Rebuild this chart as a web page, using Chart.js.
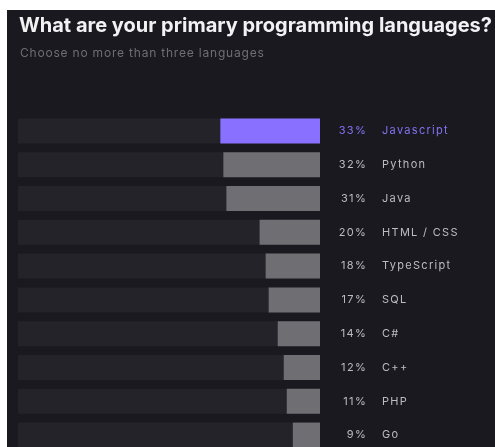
<!DOCTYPE html>
<html>
<head>
<meta charset="utf-8">
<script src="https://cdn.jsdelivr.net/npm/chart.js@4.4.1/dist/chart.umd.min.js"></script>
<style>
  html, body { margin: 0; padding: 0; background: #ffffff; width: 495px; height: 447px; overflow: hidden; }
  #panel { position: absolute; left: 7px; top: 10px; width: 488px; height: 437px; background: #1a191f; overflow: hidden; }
  #title { position: absolute; left: 12px; top: 3px; white-space: nowrap; color: #f2f2f4; font-family: Inter, "Noto Sans", sans-serif; font-weight: 700; font-size: 20px; }
  #subtitle { position: absolute; left: 13px; top: 35px; white-space: nowrap; color: #6f6e75; font-family: Inter, "Noto Sans", sans-serif; font-size: 12px; letter-spacing: 0.8px; }
  #wrap { position: absolute; left: 0; top: 0; width: 488px; height: 452px; }
</style>
</head>
<body>
<div id="panel">
  <div id="wrap"><canvas id="c"></canvas></div>
  <div id="title">What are your primary programming languages?</div>
  <div id="subtitle">Choose no more than three languages</div>
</div>
<script>
const languages = ["Javascript", "Python", "Java", "HTML / CSS", "TypeScript", "SQL", "C#", "C++", "PHP", "Go"];
const shares = [33, 32, 31, 20, 18, 17, 14, 12, 11, 9];
const trackValues = [100, 100, 100, 100, 100, 100, 100, 100, 100, 100];
const highlightIndex = 0;

const accent = "#8a70ff";
const accentText = "#8372f2";
const barGray = "#6f6e73";
const trackColor = "#24232a";
const labelGray = "#bdbcc2";

const labelPlugin = {
  id: "rightLabels",
  afterDatasetsDraw(chart) {
    const { ctx, chartArea, scales } = chart;
    ctx.save();
    ctx.font = "11px Inter, 'Noto Sans', sans-serif";
    ctx.letterSpacing = "1.3px";
    ctx.textBaseline = "middle";
    languages.forEach((name, i) => {
      const y = scales.y.getPixelForValue(i);
      ctx.fillStyle = i === highlightIndex ? accentText : labelGray;
      ctx.textAlign = "right";
      ctx.fillText(shares[i] + "%", chartArea.right + 47, y);
      ctx.textAlign = "left";
      ctx.fillText(name, chartArea.right + 62, y);
    });
    ctx.restore();
  }
};

new Chart(document.getElementById("c"), {
  type: "bar",
  data: {
    labels: languages,
    datasets: [
      {
        data: shares,
        backgroundColor: shares.map((_, i) => i === highlightIndex ? accent : barGray),
        borderWidth: 0,
        categoryPercentage: 1,
        barPercentage: 0.74,
        order: 0
      },
      {
        data: trackValues,
        backgroundColor: trackColor,
        borderWidth: 0,
        categoryPercentage: 1,
        barPercentage: 0.74,
        order: 1
      }
    ]
  },
  options: {
    indexAxis: "y",
    responsive: true,
    maintainAspectRatio: false,
    animation: false,
    layout: { padding: { left: 11, right: 175, top: 104, bottom: 10 } },
    plugins: { legend: { display: false }, tooltip: { enabled: false } },
    scales: {
      x: { reverse: true, min: 0, max: 100, display: false, stacked: false },
      y: { display: false, stacked: true }
    }
  },
  plugins: [labelPlugin]
});
</script>
</body>
</html>
